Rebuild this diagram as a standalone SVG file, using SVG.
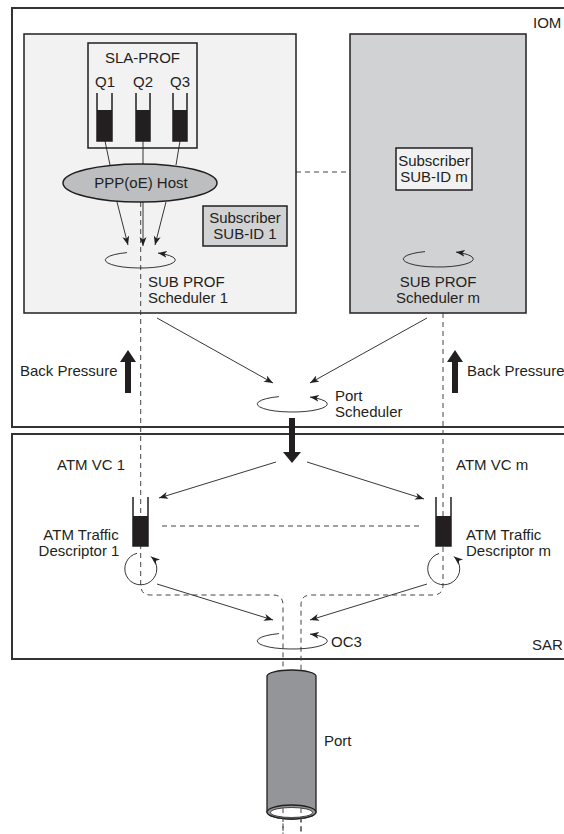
<svg xmlns="http://www.w3.org/2000/svg" width="564" height="834" viewBox="0 0 564 834">
<style>
text{font-family:"Liberation Sans",Arial,sans-serif;font-size:15px;fill:#231f20}
.frame{fill:none;stroke:#333;stroke-width:2}
.box{stroke:#231f20;stroke-width:1.5}
.dash{fill:none;stroke:#444;stroke-width:1;stroke-dasharray:5,4}
.ln{fill:none;stroke:#231f20;stroke-width:0.9}
.arr{fill:none;stroke:#231f20;stroke-width:0.9;marker-end:url(#ah)}
.tube{fill:none;stroke:#231f20;stroke-width:1.5}
.blk{fill:#231f20}
.mid{text-anchor:middle}
</style>
<defs>
<marker id="ah" markerUnits="userSpaceOnUse" markerWidth="10" markerHeight="8" refX="9" refY="3.5" orient="auto">
<path d="M0,0 L9,3.5 L0,7 L2.5,3.5 Z" fill="#231f20"/>
</marker>
</defs>

<g id="iom">
<path class="frame" d="M566,8 H12 V427 H566"/>
<text x="533" y="28">IOM</text>
</g>
<g id="sar">
<path class="frame" d="M566,434 H12 V659 H566"/>
<text x="532" y="650">SAR</text>
</g>

<g id="connectors">
<path class="dash" d="M140.7,202 V585 Q140.7,595 150.7,595 H273 Q283,595 283,605 V834"/>
<path class="dash" d="M443,313 V585 Q443,595 433,595 H311 Q301,595 301,605 V834"/>
<path class="dash" d="M296,172 H350"/>
<path class="dash" d="M162,526 H423"/>
<path class="arr" d="M157,318 L273,383"/>
<path class="arr" d="M427,318 L310,383"/>
<path class="arr" d="M276,462 L159,498"/>
<path class="arr" d="M307,462 L424,499"/>
<path class="arr" d="M157,584 L273,620"/>
<path class="arr" d="M427,584 L310,620"/>
</g>

<g id="subscriber1">
<rect class="box" x="24" y="34" width="272" height="279" fill="#f2f2f2"/>
<path class="dash" d="M140.7,202 V313"/>
</g>

<g id="sla-prof">
<rect class="box" x="88" y="43" width="109" height="105" fill="#f2f2f2"/>
<text class="mid" x="142.5" y="63">SLA-PROF</text>
<text class="mid" x="105" y="87">Q1</text>
<text class="mid" x="143" y="87">Q2</text>
<text class="mid" x="180" y="87">Q3</text>
<rect class="blk" x="97" y="110" width="15" height="31"/>
<path class="tube" d="M97,93 V141 H112 V93"/>
<rect class="blk" x="136" y="110" width="14" height="31"/>
<path class="tube" d="M136,93 V141 H150 V93"/>
<rect class="blk" x="173" y="110" width="14" height="31"/>
<path class="tube" d="M173,93 V141 H187 V93"/>
</g>

<g id="queue-links">
<path class="ln" d="M105,141 L110,165 M143,141 L143,164 M180,141 L176,165"/>
</g>

<g id="ppp-host">
<ellipse class="box" cx="140" cy="183" rx="77" ry="19" fill="#bcbec0"/>
<text class="mid" x="141" y="188">PPP(oE) Host</text>
</g>

<g id="host-arrows">
<path class="arr" d="M117,202 L128,245"/>
<path class="arr" d="M143,202 L143,246"/>
<path class="arr" d="M166,202 L155,245"/>
</g>

<g id="sub-id-1">
<rect class="box" x="203" y="206" width="84" height="40" fill="#d1d2d4"/>
<text class="mid" x="245" y="223">Subscriber</text>
<text class="mid" x="245" y="239">SUB-ID 1</text>
</g>

<g id="scheduler1">
<path class="ln" d="M127,252.6 A35,8 0 1 0 158,253.1" marker-end="url(#ah)"/>
<text x="148" y="287">SUB PROF</text>
<text x="148" y="303">Scheduler 1</text>
</g>

<g id="subscriber-m">
<rect class="box" x="350" y="34" width="176" height="279" fill="#d1d2d4"/>
<rect class="box" x="396" y="148" width="76" height="42" fill="#f2f2f2"/>
<text class="mid" x="434" y="166">Subscriber</text>
<text class="mid" x="434" y="182">SUB-ID m</text>
</g>

<g id="scheduler-m">
<path class="ln" d="M425,251.6 A35,8 0 1 0 456,252.1" marker-end="url(#ah)"/>
<text class="mid" x="438" y="287">SUB PROF</text>
<text class="mid" x="438" y="303">Scheduler m</text>
</g>

<g id="back-pressure-left">
<path class="blk" d="M125,393 V362 H120 L128,350 L136,362 H131 V393 Z"/>
<text x="20" y="376">Back Pressure</text>
</g>
<g id="back-pressure-right">
<path class="blk" d="M452,393 V362 H447 L455,350 L463,362 H458 V393 Z"/>
<text x="467" y="376">Back Pressure</text>
</g>

<g id="port-scheduler">
<path class="ln" d="M279,396.6 A35,8 0 1 0 310,397.1" marker-end="url(#ah)"/>
<text x="335" y="401">Port</text>
<text x="335" y="417">Scheduler</text>
</g>

<g id="down-arrow">
<path class="blk" d="M289,418 V452 H283 L292,463 L301,452 H295 V418 Z"/>
</g>

<g id="atm-vc-1">
<rect class="blk" x="133" y="516" width="15" height="30"/>
<path class="tube" d="M133,497 V546 H148 V497"/>
<text x="57" y="470">ATM VC 1</text>
<text class="mid" x="81" y="540">ATM Traffic</text>
<text class="mid" x="79" y="556">Descriptor 1</text>
<path class="ln" d="M137,553.3 A16,16 0 1 0 151,556.5" marker-end="url(#ah)"/>
</g>

<g id="atm-vc-m">
<rect class="blk" x="436" y="516" width="15" height="30"/>
<path class="tube" d="M436,497 V546 H451 V497"/>
<text x="456" y="470">ATM VC m</text>
<text x="466" y="540">ATM Traffic</text>
<text x="466" y="556">Descriptor m</text>
<path class="ln" d="M439,553.5 A16,16 0 1 0 454,556.5" marker-end="url(#ah)"/>
</g>

<g id="oc3">
<path class="ln" d="M279,633.6 A35,8 0 1 0 310,634.1" marker-end="url(#ah)"/>
<text x="331" y="647">OC3</text>
</g>

<g id="port">
<path d="M267,676 A24.5,6 0 0 1 316,676 V812 A24.5,7 0 0 1 267,812 Z" fill="#939598" stroke="#231f20" stroke-width="1.3"/>
<ellipse cx="291.5" cy="812" rx="24.5" ry="7" fill="#939598" stroke="#231f20" stroke-width="1.3"/>
<ellipse cx="291.5" cy="812.5" rx="21" ry="5" fill="#fff" stroke="#231f20" stroke-width="0.8"/>
<path class="dash" d="M283,808 V834 M301,808 V834"/>
<text x="324" y="746">Port</text>
</g>
</svg>
